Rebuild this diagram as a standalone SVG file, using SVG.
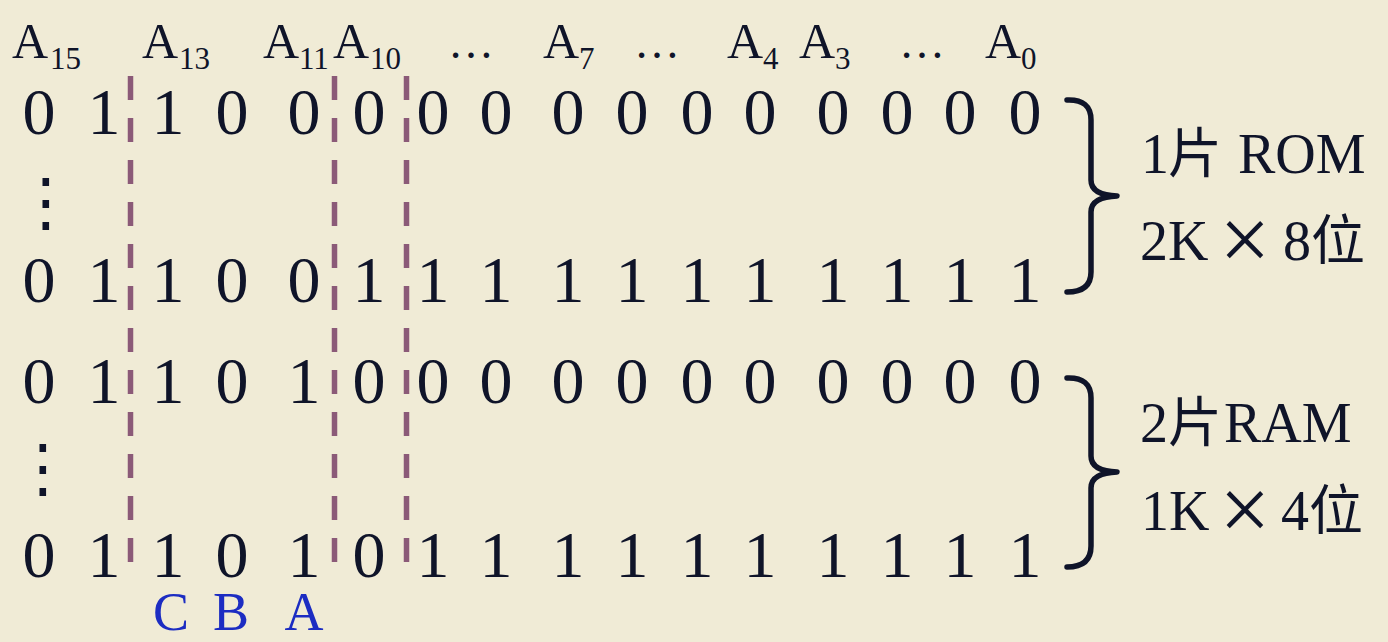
<svg xmlns="http://www.w3.org/2000/svg" width="1388" height="642" viewBox="0 0 1388 642">
<style>
.d{font-family:"Liberation Serif","Times New Roman",serif;font-size:66px;fill:#0f1429;text-anchor:middle}
.h{font-family:"Liberation Serif","Times New Roman",serif;font-size:50px;fill:#0f1429}
.s{font-size:31px}
.e{font-family:"Liberation Serif","Times New Roman",serif;font-size:46px;fill:#0f1429;text-anchor:middle}
.v{font-family:"DejaVu Sans",sans-serif;font-size:64px;fill:#0f1429;text-anchor:middle}
.l{font-family:"Liberation Serif","Noto Sans CJK SC",serif;font-size:56px;fill:#0f1429}
.c{font-family:"Noto Sans CJK SC",sans-serif;font-size:54px}
.x{font-family:"Liberation Serif",serif;font-size:90px;fill:#0f1429;text-anchor:middle}
.b{font-family:"Liberation Serif","Times New Roman",serif;font-size:54px;fill:#1c2cc2;text-anchor:middle}
.dash{stroke:#8b5a78;stroke-width:5.5;stroke-dasharray:24 18;fill:none}
.br{stroke:#0f1429;stroke-width:5.5;fill:none;stroke-linecap:round;stroke-linejoin:round}
</style>
<rect width="1388" height="642" fill="#f0ebd6"/>
<g id="header">
<text class="h" x="12" y="58">A<tspan class="s" x="50" y="69">15</tspan></text>
<text class="h" x="142" y="58">A<tspan class="s" x="179" y="69">13</tspan></text>
<text class="h" x="263" y="58">A<tspan class="s" x="299" y="69">11</tspan></text>
<text class="h" x="333" y="58">A<tspan class="s" x="370" y="69">10</tspan></text>
<text class="e" x="471" y="58">…</text>
<text class="h" x="543" y="58">A<tspan class="s" x="579" y="69">7</tspan></text>
<text class="e" x="657" y="58">…</text>
<text class="h" x="727" y="58">A<tspan class="s" x="763" y="69">4</tspan></text>
<text class="h" x="799" y="58">A<tspan class="s" x="835" y="69">3</tspan></text>
<text class="e" x="922" y="58">…</text>
<text class="h" x="985" y="58">A<tspan class="s" x="1021" y="69">0</tspan></text>
</g>
<g id="connectors">
<line class="dash" x1="130.5" y1="76" x2="130.5" y2="564"/>
<line class="dash" x1="334.5" y1="76" x2="334.5" y2="564"/>
<line class="dash" x1="406.5" y1="76" x2="406.5" y2="564"/>
</g>
<g id="row1">
<text class="d" y="134"><tspan x="39">0</tspan><tspan x="104">1</tspan><tspan x="168">1</tspan><tspan x="232">0</tspan><tspan x="304">0</tspan><tspan x="369">0</tspan><tspan x="433">0</tspan><tspan x="496">0</tspan><tspan x="568">0</tspan><tspan x="632">0</tspan><tspan x="697">0</tspan><tspan x="760">0</tspan><tspan x="833">0</tspan><tspan x="897">0</tspan><tspan x="960">0</tspan><tspan x="1025">0</tspan></text>
</g>
<g id="vdots1"><text class="v" x="46" y="224">⋮</text></g>
<g id="row2">
<text class="d" y="302"><tspan x="39">0</tspan><tspan x="104">1</tspan><tspan x="168">1</tspan><tspan x="232">0</tspan><tspan x="304">0</tspan><tspan x="369">1</tspan><tspan x="433">1</tspan><tspan x="496">1</tspan><tspan x="568">1</tspan><tspan x="632">1</tspan><tspan x="697">1</tspan><tspan x="760">1</tspan><tspan x="833">1</tspan><tspan x="897">1</tspan><tspan x="960">1</tspan><tspan x="1025">1</tspan></text>
</g>
<g id="row3">
<text class="d" y="403"><tspan x="39">0</tspan><tspan x="104">1</tspan><tspan x="168">1</tspan><tspan x="232">0</tspan><tspan x="304">1</tspan><tspan x="369">0</tspan><tspan x="433">0</tspan><tspan x="496">0</tspan><tspan x="568">0</tspan><tspan x="632">0</tspan><tspan x="697">0</tspan><tspan x="760">0</tspan><tspan x="833">0</tspan><tspan x="897">0</tspan><tspan x="960">0</tspan><tspan x="1025">0</tspan></text>
</g>
<g id="vdots2"><text class="v" x="43" y="490">⋮</text></g>
<g id="row4">
<text class="d" y="577"><tspan x="39">0</tspan><tspan x="104">1</tspan><tspan x="168">1</tspan><tspan x="232">0</tspan><tspan x="304">1</tspan><tspan x="369">0</tspan><tspan x="433">1</tspan><tspan x="496">1</tspan><tspan x="568">1</tspan><tspan x="632">1</tspan><tspan x="697">1</tspan><tspan x="760">1</tspan><tspan x="833">1</tspan><tspan x="897">1</tspan><tspan x="960">1</tspan><tspan x="1025">1</tspan></text>
</g>
<g id="cba">
<text class="b" x="171" y="630">C</text>
<text class="b" x="231" y="630">B</text>
<text class="b" x="304" y="630">A</text>
</g>
<g id="rom">
<path class="br" d="M1067,100 Q1091,99 1091,120 L1091,180 Q1091,195 1117,196 Q1091,197 1091,212 L1091,272 Q1091,292 1067,292"/>
<text class="l" y="173"><tspan x="1141">1</tspan><tspan class="c" x="1168">片</tspan><tspan x="1238">ROM</tspan></text>
<text class="l" y="260"><tspan x="1140">2K</tspan><tspan x="1283">8</tspan><tspan class="c" x="1311">位</tspan></text>
<text class="x" x="1245" y="270">×</text>
</g>
<g id="ram">
<path class="br" d="M1067,378 Q1091,377 1091,398 L1091,456 Q1091,471 1117,472 Q1091,473 1091,488 L1091,546 Q1091,567 1067,567"/>
<text class="l" y="442"><tspan x="1140">2</tspan><tspan class="c" x="1168">片</tspan><tspan x="1224">RAM</tspan></text>
<text class="l" y="530"><tspan x="1141">1K</tspan><tspan x="1281">4</tspan><tspan class="c" x="1309">位</tspan></text>
<text class="x" x="1245" y="540">×</text>
</g>
</svg>
